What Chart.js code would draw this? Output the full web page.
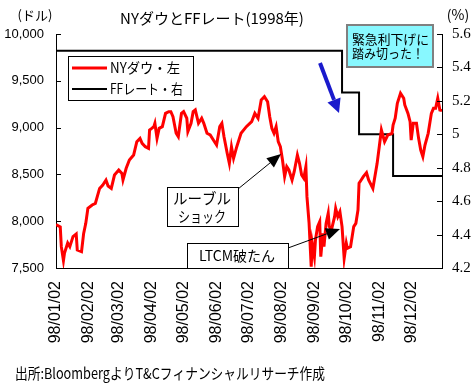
<!DOCTYPE html>
<html><head><meta charset="utf-8">
<script src="https://cdn.jsdelivr.net/npm/chart.js@4.4.1/dist/chart.umd.min.js"></script>
<style>html,body{margin:0;padding:0;background:#fff}canvas{display:block}</style>
</head><body>
<canvas id="c" width="474" height="384"></canvas>
<script>
// Day index counted from 1998-01-02
const dowDays = [0,4,5,7,8,11,13,16,19,20,24,26,28,30,34,37,41,44,47,49,52,55,59,62,63,66,69,73,76,79,81,84,87,88,90,92,93,95,97,100,103,106,108,110,113,115,118,120,123,124,127,129,131,134,137,139,142,145,148,151,154,156,158,161,163,165,167,170,174,179,184,187,190,193,196,199,201,203,205,207,209,211,213,215,217,219,222,224,227,229,231,233,235,236,238,240,241,243,244,246,248,249,251,252,254,256,257,259,262,263,265,267,269,271,273,274,277,280,282,284,285,287,289,292,294,298,302,304,306,309,312,316,317,319,321,324,327,328,331,333,334,336,339,341,343,345,347,350,353,355,357,359,361,363];
const dowValues = [7965,7940,7728,7580,7660,7767,7728,7835,7863,7692,7674,7870,7977,8137,8173,8190,8350,8387,8440,8376,8350,8493,8547,8510,8440,8565,8654,8707,8850,8885,8832,8796,8779,8975,8992,9010,9046,8885,8992,9010,9152,9170,9170,9117,8939,8903,9152,9170,9100,8957,9046,9170,9188,9046,9100,9046,8939,8921,8867,8814,9010,9046,8903,8725,8618,8796,8672,8796,8939,9010,9063,9152,9100,9295,9330,9277,9117,8992,8939,9010,8850,8796,8654,8476,8583,8547,8440,8529,8707,8618,8493,8458,8583,8262,7980,7514,7764,7621,7800,7942,7995,7621,7870,7728,7977,8085,7942,7906,8049,8137,8049,8102,7942,7603,7764,7710,7728,7942,7977,8120,8405,8440,8476,8518,8440,8350,8618,8796,8975,8850,8921,8939,9028,9100,9259,9366,9313,9242,9152,9063,8867,9046,9046,8885,8760,8690,8814,8939,9152,9206,9206,9313,9188,9181];
const ffDays = [0,269,285,317,363];
const ffValues = [5.5,5.25,5.0,4.75,4.75];
const monthDays = [0,31,59,90,120,151,181,212,243,273,304,334];
const monthLabels = ['98/01/02','98/02/02','98/03/02','98/04/02','98/05/02','98/06/02','98/07/02','98/08/02','98/09/02','98/10/02','98/11/02','98/12/02'];
const leftTickLabels = ['7,500','8,000','8,500','9,000','9,500','10,000'];
const rightTickLabels = ['4.2','4.4','4.6','4.8','5','5.2','5.4','5.6'];

const CJK = '"Noto Sans CJK JP", sans-serif';

function arrow(ctx, x1, y1, x2, y2, color, lw, hl, hw) {
  const a = Math.atan2(y2 - y1, x2 - x1);
  const bx = x2 - hl * Math.cos(a), by = y2 - hl * Math.sin(a);
  ctx.save();
  ctx.strokeStyle = color; ctx.fillStyle = color; ctx.lineWidth = lw;
  ctx.beginPath(); ctx.moveTo(x1, y1); ctx.lineTo(bx, by); ctx.stroke();
  ctx.beginPath();
  ctx.moveTo(x2, y2);
  ctx.lineTo(bx + hw * Math.sin(a), by - hw * Math.cos(a));
  ctx.lineTo(bx - hw * Math.sin(a), by + hw * Math.cos(a));
  ctx.closePath(); ctx.fill();
  ctx.restore();
}

const decor = {
  id: 'decor',
  afterDatasetsDraw(chart) {
    const ctx = chart.ctx;
    const yl = chart.scales.y, yr = chart.scales.y2;
    const L = chart.chartArea.left, R = chart.chartArea.right;
    ctx.save();
    // inner tick marks
    ctx.strokeStyle = '#000'; ctx.lineWidth = 1;
    yl.ticks.forEach(t => { const y = Math.round(yl.getPixelForValue(t.value)) + 0.5; ctx.beginPath(); ctx.moveTo(L, y); ctx.lineTo(L + 5, y); ctx.stroke(); });
    yr.ticks.forEach(t => { const y = Math.round(yr.getPixelForValue(t.value)) + 0.5; ctx.beginPath(); ctx.moveTo(R - 5, y); ctx.lineTo(R, y); ctx.stroke(); });

    ctx.fillStyle = '#000';
    ctx.textBaseline = 'middle';
    // title & units
    ctx.textAlign = 'center';
    ctx.font = '15px ' + CJK;
    ctx.fillText('NYダウとFFレート(1998年)', 212, 18, 188);
    ctx.font = '13px ' + CJK;
    ctx.fillText('(ドル)', 35, 15, 36);
    ctx.font = '14px ' + CJK;
    ctx.fillText('(%)', 458, 15, 26);

    // legend
    ctx.fillStyle = '#fff'; ctx.fillRect(68, 56, 125, 44);
    ctx.strokeStyle = '#000'; ctx.lineWidth = 1; ctx.strokeRect(68.5, 56.5, 125, 44);
    ctx.strokeStyle = '#ff0000'; ctx.lineWidth = 3;
    ctx.beginPath(); ctx.moveTo(72, 68); ctx.lineTo(107, 68); ctx.stroke();
    ctx.strokeStyle = '#000'; ctx.lineWidth = 2;
    ctx.beginPath(); ctx.moveTo(72, 89); ctx.lineTo(107, 89); ctx.stroke();
    ctx.fillStyle = '#000'; ctx.textAlign = 'left'; ctx.font = '14px ' + CJK;
    ctx.fillText('NYダウ・左', 110, 68, 70);
    ctx.fillText('FFレート・右', 110, 89, 73);

    // emergency cut box
    ctx.fillStyle = '#88f8ff'; ctx.fillRect(347, 25, 86, 42);
    ctx.strokeStyle = '#808080'; ctx.lineWidth = 2; ctx.strokeRect(347, 25, 86, 42);
    ctx.fillStyle = '#000'; ctx.font = '13px ' + CJK; ctx.textAlign = 'left';
    ctx.fillText('緊急利下げに', 352, 39.5, 77);
    ctx.fillText('踏み切った！', 352, 53, 72);
    arrow(ctx, 320, 63, 339, 113, '#1a1acc', 4, 14, 7);

    // rouble shock box
    ctx.fillStyle = '#fff'; ctx.fillRect(167, 187, 71, 39);
    ctx.strokeStyle = '#000'; ctx.lineWidth = 1; ctx.strokeRect(167.5, 187.5, 71, 39);
    ctx.fillStyle = '#000'; ctx.textAlign = 'center'; ctx.font = '15px ' + CJK;
    ctx.fillText('ルーブル', 202, 198, 58);
    ctx.fillText('ショック', 202, 216.5, 48);
    arrow(ctx, 238, 189, 281, 154, '#000', 1, 14, 6);

    // LTCM box
    ctx.fillStyle = '#fff'; ctx.fillRect(187, 243, 101, 25);
    ctx.strokeStyle = '#000'; ctx.lineWidth = 1; ctx.strokeRect(187.5, 243.5, 101, 25);
    ctx.fillStyle = '#000'; ctx.font = '14px ' + CJK;
    ctx.fillText('LTCM破たん', 237, 256, 82);
    arrow(ctx, 288, 248, 340, 229, '#000', 1, 14, 6);

    // source
    ctx.textAlign = 'left'; ctx.font = '15px ' + CJK;
    ctx.fillText('出所:BloombergよりT&Cフィナンシャルリサーチ作成', 15, 373, 310);
    ctx.restore();
  }
};

new Chart(document.getElementById('c'), {
  type: 'line',
  data: {
    datasets: [
      { label: 'NYダウ・左', data: dowDays.map((d, i) => ({ x: d, y: dowValues[i] })), yAxisID: 'y',
        borderColor: '#ff0000', borderWidth: 3, pointRadius: 0, tension: 0, fill: false },
      { label: 'FFレート・右', data: ffDays.map((d, i) => ({ x: d, y: ffValues[i] })), yAxisID: 'y2',
        borderColor: '#000', borderWidth: 2, pointRadius: 0, stepped: true, fill: false }
    ]
  },
  options: {
    responsive: false, animation: false, devicePixelRatio: 1,
    layout: { padding: { top: 34, left: 0, right: 0, bottom: 0 } },
    plugins: { legend: { display: false }, title: { display: false }, tooltip: { enabled: false } },
    scales: {
      x: {
        type: 'linear', min: 0, max: 363,
        afterBuildTicks: s => { s.ticks = monthDays.map(v => ({ value: v })); },
        afterFit: s => { s.height = 116; },
        grid: { display: false, drawTicks: false },
        border: { display: true, color: '#000', width: 1 },
        ticks: { autoSkip: false, minRotation: 90, maxRotation: 90, padding: 13, color: '#000',
          font: { family: '"Liberation Sans", Arial, sans-serif', size: 16 },
          callback: v => monthLabels[monthDays.indexOf(v)] }
      },
      y: {
        position: 'left', min: 7500, max: 10000,
        afterBuildTicks: s => { s.ticks = leftTickLabels.map((t, i) => ({ value: 7500 + i * 500 })); },
        afterFit: s => { s.width = 56; },
        grid: { display: false, drawTicks: false },
        border: { display: true, color: '#000', width: 1 },
        ticks: { padding: 12, color: '#000', font: { family: '"Liberation Sans", Arial, sans-serif', size: 13 },
          callback: (v, i) => leftTickLabels[i] }
      },
      y2: {
        position: 'right', min: 4.2, max: 5.6,
        afterBuildTicks: s => { s.ticks = rightTickLabels.map(t => ({ value: parseFloat(t) })); },
        afterFit: s => { s.width = 32; },
        grid: { display: false, drawTicks: false },
        border: { display: true, color: '#000', width: 1 },
        ticks: { padding: 10, color: '#000', font: { family: '"Liberation Serif", "Times New Roman", serif', size: 15 },
          callback: (v, i) => rightTickLabels[i] }
      }
    }
  },
  plugins: [decor]
});
</script>
</body></html>
